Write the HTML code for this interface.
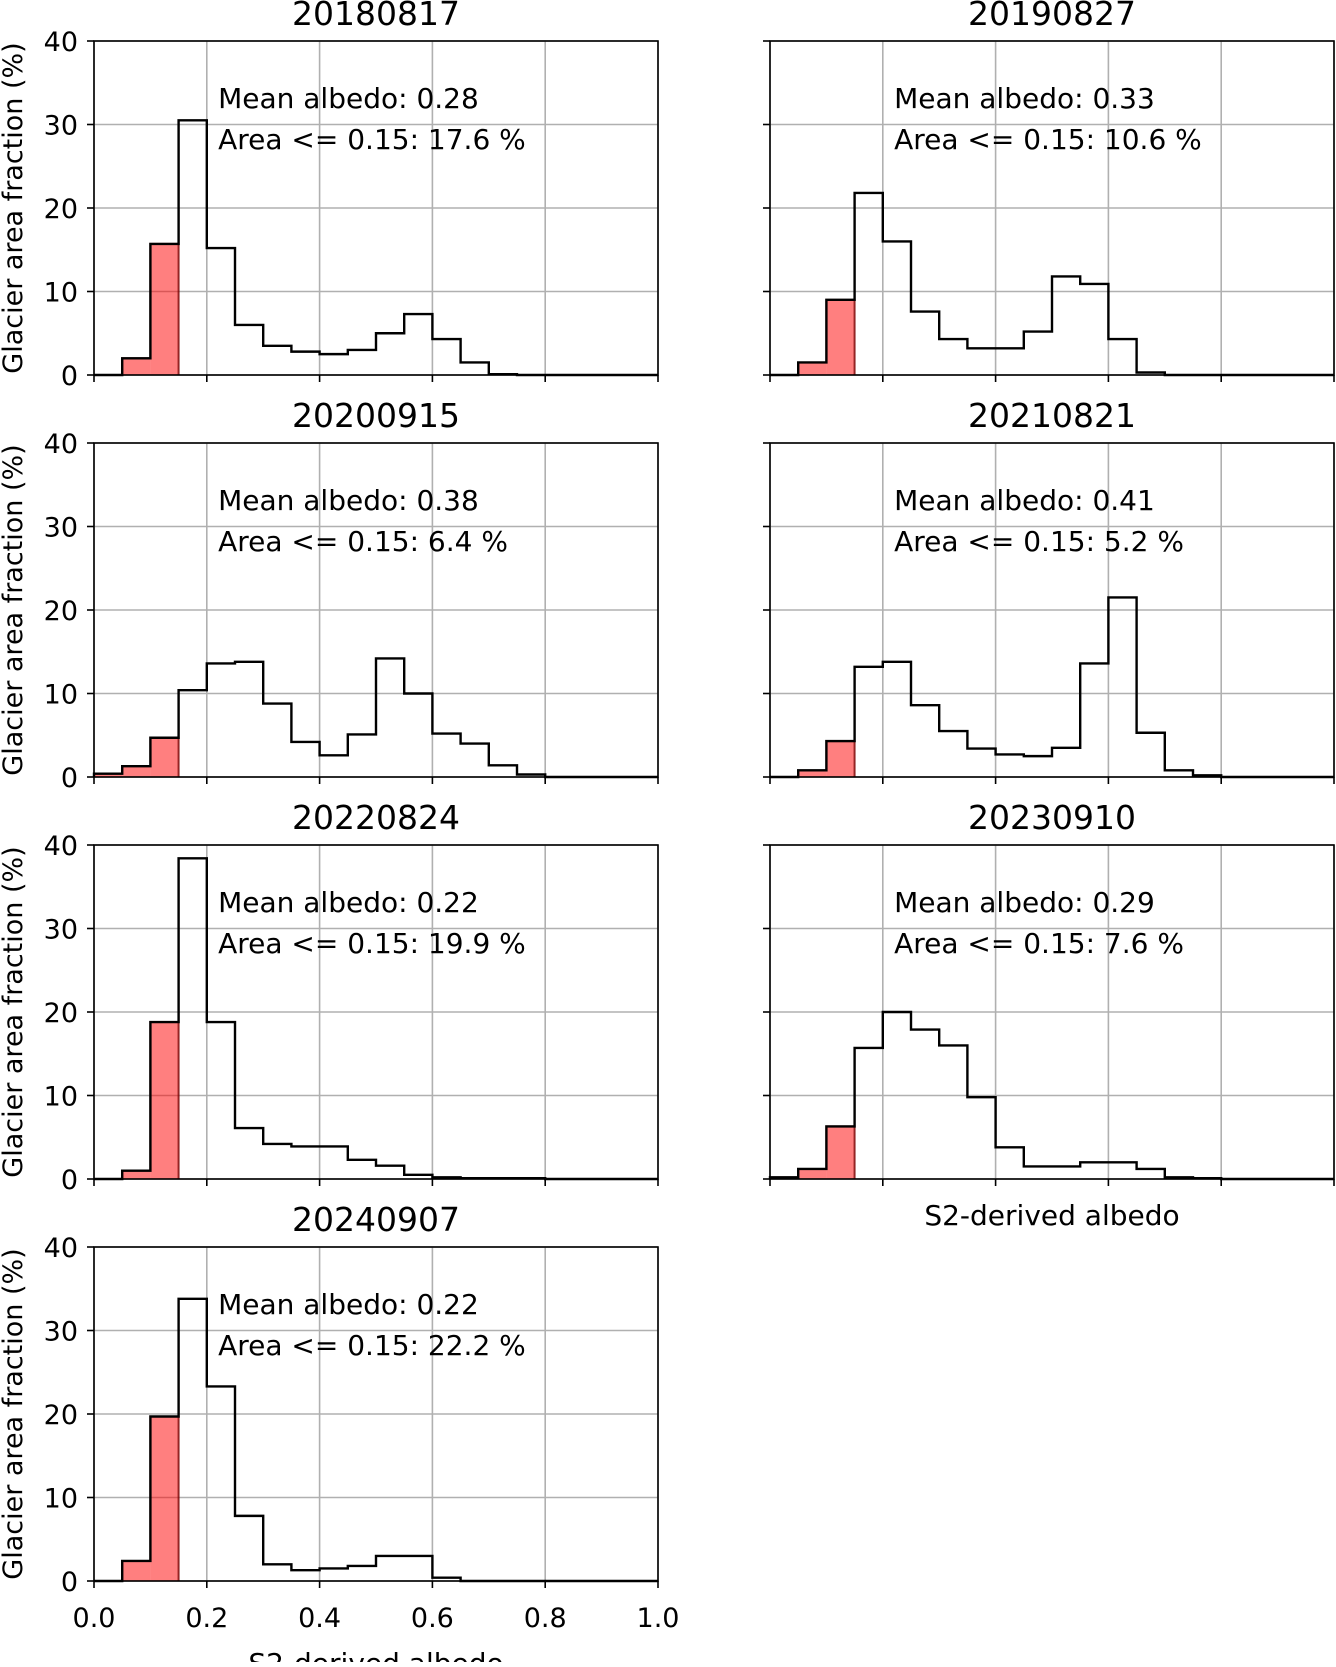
<!DOCTYPE html>
<html><head><meta charset="utf-8"><style>
html,body{margin:0;padding:0;background:#fff}
svg text{font-family:"DejaVu Sans","Liberation Sans",sans-serif;fill:#000}
</style></head><body>
<svg id="fig" width="1336" height="1662" xmlns="http://www.w3.org/2000/svg"></svg>
<script>
const titles = ["20180817","20190827","20200915","20210821","20220824","20230910","20240907"];
const meanAlbedo = ["0.28","0.33","0.38","0.41","0.22","0.29","0.22"];
const areaLow = ["17.6","10.6","6.4","5.2","19.9","7.6","22.2"];
const binEdgeStep = 0.05;
const s2018 = [0,2,15.7,30.5,15.2,6,3.5,2.8,2.5,3,5,7.3,4.3,1.5,0.1,0,0,0,0,0];
const s2019 = [0,1.5,9,21.8,16,7.6,4.3,3.2,3.2,5.2,11.8,10.9,4.3,0.3,0,0,0,0,0,0];
const s2020 = [0.4,1.3,4.7,10.4,13.6,13.8,8.8,4.2,2.6,5.1,14.2,10,5.2,4,1.4,0.3,0,0,0,0];
const s2021 = [0,0.8,4.3,13.2,13.8,8.6,5.5,3.4,2.7,2.5,3.5,13.6,21.5,5.3,0.8,0.2,0,0,0,0];
const s2022 = [0,1,18.8,38.4,18.8,6.1,4.2,3.9,3.9,2.3,1.6,0.5,0.2,0.1,0.1,0.1,0,0,0,0];
const s2023 = [0.2,1.2,6.3,15.7,20,17.9,16,9.8,3.8,1.5,1.5,2,2,1.2,0.2,0.1,0,0,0,0];
const s2024 = [0,2.4,19.7,33.8,23.3,7.8,2,1.3,1.5,1.8,3,3,0.4,0,0,0,0,0,0,0];
const series = [s2018,s2019,s2020,s2021,s2022,s2023,s2024];
const yTicks = [0,10,20,30,40];
const xTicks = [0,0.2,0.4,0.6,0.8,1.0];
const xTickLabels = ["0.0","0.2","0.4","0.6","0.8","1.0"];

const NS="http://www.w3.org/2000/svg";
const svg=document.getElementById('fig');
function mk(tag,attrs,parent){const e=document.createElementNS(NS,tag);for(const k in attrs)e.setAttribute(k,attrs[k]);(parent||svg).appendChild(e);return e;}
const colX=[94,770], rowY=[41,443,845,1247], W=564, H=334;

series.forEach((vals,i)=>{
  const col=i%2,row=Math.floor(i/2);
  const L=colX[col],T=rowY[row],B=T+H;
  const g=mk('g',{});
  
  
  const sx=v=>L+v*W, sy=v=>B-v/40*H;
  xTicks.forEach(t=>{const l=mk('line',{x1:sx(t),x2:sx(t),y1:T,y2:B,stroke:'#b0b0b0','stroke-width':1.6},g);
    });
  yTicks.forEach(t=>{const l=mk('line',{x1:L,x2:L+W,y1:sy(t),y2:sy(t),stroke:'#b0b0b0','stroke-width':1.6},g);
    });
  vals.forEach((v,k)=>{const x0=k*binEdgeStep;if(x0>=0.15-1e-9||v<=0)return;
    const r=mk('rect',{x:sx(x0),y:sy(v),width:sx(x0+binEdgeStep)-sx(x0),height:B-sy(v),fill:'rgba(255,0,0,0.5)'},g);
    });
  let dr='';let started=false;
  vals.forEach((v,k)=>{const x0=k*binEdgeStep;if(x0>=0.15-1e-9)return;
    if(!started){dr+=`M${sx(x0)},${B}`;started=true;}
    dr+=` L${sx(x0)},${sy(v)} L${sx(x0+binEdgeStep)},${sy(v)}`;});
  dr+=` L${sx(0.15)},${B}`;
  const pr=mk('path',{d:dr,fill:'none',stroke:'#7a0000','stroke-width':2,'stroke-opacity':0.8},g);
  
  let d=`M${sx(0)},${B}`;
  vals.forEach((v,k)=>{d+=` L${sx(k*binEdgeStep)},${sy(v)} L${sx((k+1)*binEdgeStep)},${sy(v)}`;});
  d+=` L${sx(1)},${B}`;
  const p=mk('path',{d:d,fill:'none',stroke:'#000','stroke-width':2.4,'stroke-linejoin':'miter'},g);
  
  const fr=mk('rect',{x:L,y:T,width:W,height:H,fill:'none',stroke:'#000','stroke-width':1.6},g);
  
  yTicks.forEach(t=>{mk('line',{x1:L-7,x2:L,y1:sy(t),y2:sy(t),stroke:'#000','stroke-width':1.6},g);
    if(col===0){const tx=mk('text',{x:L-16,y:sy(t)+10,'text-anchor':'end','font-size':27},g);tx.textContent=t;
      }});
  xTicks.forEach((t,k)=>{mk('line',{x1:sx(t),x2:sx(t),y1:B,y2:B+7,stroke:'#000','stroke-width':1.6},g);
    if(i===6){const tx=mk('text',{x:sx(t),y:B+46,'text-anchor':'middle','font-size':27},g);tx.textContent=xTickLabels[k];
      }});
  const ti=mk('text',{x:L+W/2,y:T-16,'text-anchor':'middle','font-size':33},g);ti.textContent=titles[i];
  
  const a1=mk('text',{x:sx(0.22),y:T+67,'font-size':28},g);a1.textContent='Mean albedo: '+meanAlbedo[i];
  
  const a2=mk('text',{x:sx(0.22),y:T+108,'font-size':28},g);a2.textContent='Area <= 0.15: '+areaLow[i]+' %';
  
  if(col===0){const yl=mk('text',{x:0,y:0,'text-anchor':'middle','font-size':27,transform:`translate(22,${T+H/2}) rotate(-90)`},g);
    yl.textContent='Glacier area fraction (%)';
    }
  if(i===5||i===6){const xl=mk('text',{x:L+W/2,y:i===6?B+92:B+46,'text-anchor':'middle','font-size':28},g);
    xl.textContent='S2-derived albedo';
    }
});
</script>
</body></html>
